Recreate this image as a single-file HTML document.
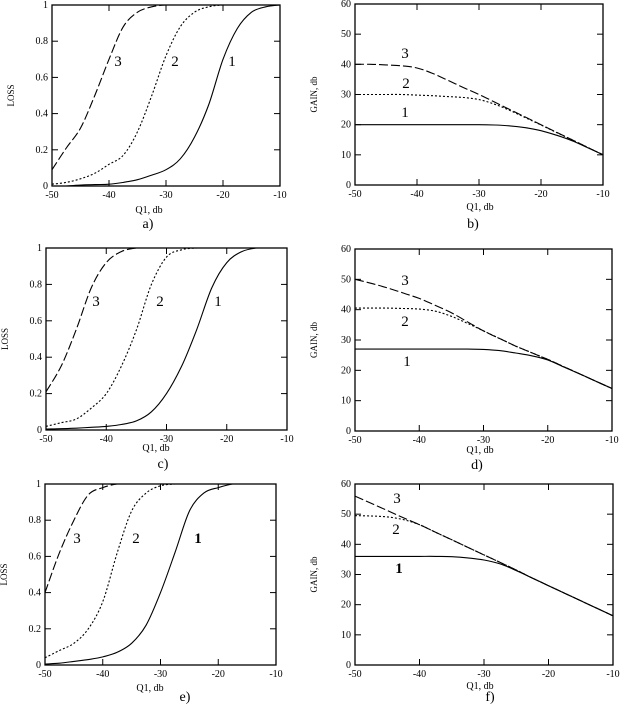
<!DOCTYPE html>
<html><head><meta charset="utf-8"><style>
html,body{margin:0;padding:0;background:#fff;}
svg{display:block;font-family:"Liberation Serif",serif;}
</style></head><body>
<svg id="fig" width="621" height="706" viewBox="0 0 621 706"></svg>
<script>
const xGrid = [-50,-47.5,-45,-42.5,-40,-37.5,-35,-32.5,-30,-27.5,-25,-22.5,-20,-17.5,-15,-12.5,-10];
const xTicks = [-50,-40,-30,-20,-10];
const lossTicks = [0,0.2,0.4,0.6,0.8,1];
const lossTickLabels = ["0","0.2","0.4","0.6","0.8","1"];
const gainTicks = [0,10,20,30,40,50,60];
const gainTickLabels = ["0","10","20","30","40","50","60"];
const xTickLabels = ["-50","-40","-30","-20","-10"];

const a1 = [0,0,0.005,0.008,0.01,0.02,0.035,0.06,0.09,0.15,0.27,0.45,0.7,0.87,0.96,0.99,1.0];
const a2 = [0.01,0.02,0.04,0.07,0.12,0.17,0.3,0.5,0.72,0.88,0.96,0.99,1,1,1,1,1];
const a3 = [0.09,0.21,0.32,0.5,0.7,0.88,0.96,0.99,1,1,1,1,1,1,1,1,1];
const b1 = [20,20,20,20,20,20,20,20,20,19.9,19.6,19,18,16.5,14.7,12.4,10];
const b2 = [30,30,30,30,29.8,29.6,29.3,29,28.3,26.8,24.7,22.3,19.9,17.4,15,12.5,10];
const b3 = [40,40,39.8,39.5,38.8,37,34.7,32.3,30,27.5,25,22.5,20,17.5,15,12.5,10];
const c1 = [0.005,0.007,0.01,0.015,0.02,0.03,0.05,0.1,0.2,0.35,0.55,0.78,0.92,0.98,1,1,1];
const c2 = [0.02,0.04,0.06,0.12,0.2,0.35,0.55,0.8,0.95,0.99,1,1,1,1,1,1,1];
const c3 = [0.21,0.35,0.55,0.78,0.92,0.98,1,1,1,1,1,1,1,1,1,1,1];
const d1 = [27,27,27,27,27,27,27,27,26.9,26.5,25.7,24.8,23.4,21.1,18.8,16.4,14];
const d2 = [40.5,40.5,40.5,40.4,40.2,39.5,37.8,35.5,33,30.5,28,25.8,23.6,21.2,18.8,16.4,14];
const d3 = [50,48.7,47.2,45.5,43.7,41.4,39,36,33,30.5,28,25.8,23.6,21.2,18.8,16.4,14];
const e1 = [0.005,0.01,0.02,0.03,0.045,0.07,0.12,0.22,0.4,0.62,0.85,0.95,0.98,1,1,1,1];
const e2 = [0.04,0.08,0.12,0.2,0.35,0.62,0.85,0.95,0.99,1,1,1,1,1,1,1,1];
const e3 = [0.4,0.62,0.8,0.94,0.98,1,1,1,1,1,1,1,1,1,1,1,1];
const f1 = [36,36,36,36,36,36,35.9,35.5,34.8,33.5,31.3,28.8,26.3,23.8,21.3,18.8,16.3];
const f2 = [49.5,49.4,49.1,48.2,46.5,44,41.5,39,36.5,34,31.5,28.8,26.3,23.8,21.3,18.8,16.3];
const f3 = [56,53.6,51.2,48.8,46.5,44,41.5,39,36.5,34,31.5,28.8,26.3,23.8,21.3,18.8,16.3];

const NS = "http://www.w3.org/2000/svg";
const svg = document.getElementById("fig");
function mk(tag, attrs, parent){
  const e = document.createElementNS(NS, tag);
  for (const k in attrs) e.setAttribute(k, attrs[k]);
  (parent||svg).appendChild(e);
  return e;
}
function smoothPath(pts, ymin, ymax){
  let d = "M" + pts[0][0].toFixed(1) + "," + pts[0][1].toFixed(1);
  for (let i = 0; i < pts.length - 1; i++){
    const p0 = pts[Math.max(0,i-1)], p1 = pts[i], p2 = pts[i+1], p3 = pts[Math.min(pts.length-1,i+2)];
    const c1x = p1[0] + (p2[0]-p0[0])/6, c1y = Math.min(ymax, Math.max(ymin, p1[1] + (p2[1]-p0[1])/6));
    const c2x = p2[0] - (p3[0]-p1[0])/6, c2y = Math.min(ymax, Math.max(ymin, p2[1] - (p3[1]-p1[1])/6));
    d += " C" + c1x.toFixed(1) + "," + c1y.toFixed(1) + " " + c2x.toFixed(1) + "," + c2y.toFixed(1) + " " + p2[0].toFixed(1) + "," + p2[1].toFixed(1);
  }
  return d;
}
const dashes = ["", "2,2", "9,3"];
const panels = [
  {id:"a", x0:52, x1:280, yt:5, yb:186, ymax:1, ticks:lossTicks, tl:lossTickLabels, yTitle:"LOSS", series:[a1,a2,a3],
   nums:[[232,66],[175,66],[118,66]], bold:false, q:[149,213], lab:[148,228]},
  {id:"b", x0:355, x1:603, yt:4, yb:185, ymax:60, ticks:gainTicks, tl:gainTickLabels, yTitle:"GAIN, db", series:[b1,b2,b3],
   nums:[[405,117],[406,88],[405,58]], bold:false, q:[480,210], lab:[473,228]},
  {id:"c", x0:46, x1:287, yt:248, yb:430, ymax:1, ticks:lossTicks, tl:lossTickLabels, yTitle:"LOSS", series:[c1,c2,c3],
   nums:[[218,306],[160,306],[96,306]], bold:false, q:[156,451], lab:[163,468]},
  {id:"d", x0:355, x1:612, yt:249, yb:431, ymax:60, ticks:gainTicks, tl:gainTickLabels, yTitle:"GAIN, db", series:[d1,d2,d3],
   nums:[[407,366],[405,326],[405,285]], bold:false, q:[480,453], lab:[477,469]},
  {id:"e", x0:45, x1:276, yt:484, yb:665, ymax:1, ticks:lossTicks, tl:lossTickLabels, yTitle:"LOSS", series:[e1,e2,e3],
   nums:[[198,543],[136,543],[77,543]], bold:true, q:[150,691], lab:[185,701]},
  {id:"f", x0:355, x1:613, yt:484, yb:665, ymax:60, ticks:gainTicks, tl:gainTickLabels, yTitle:"GAIN, db", series:[f1,f2,f3],
   nums:[[399,573],[396,534],[397,503]], bold:true, q:[480,689], lab:[490,701]}
];

panels.forEach(p => {
  const g = mk("g", {});
  
  
  const sx = v => p.x0 + (v - (-50)) / 40 * (p.x1 - p.x0);
  const sy = v => p.yb - v / p.ymax * (p.yb - p.yt);
  const frame = mk("rect", {x:p.x0, y:p.yt, width:p.x1-p.x0, height:p.yb-p.yt, fill:"none", stroke:"#000", "stroke-width":1.3}, g);
  
  
  xTicks.forEach((t, i) => {
    const x = sx(t);
    mk("line", {x1:x, y1:p.yb, x2:x, y2:p.yb-6, stroke:"#000"}, g);
    mk("line", {x1:x, y1:p.yt, x2:x, y2:p.yt+6, stroke:"#000"}, g);
    const tx = mk("text", {x:x, y:p.yb+12, "font-size":10, "text-anchor":"middle"}, g);
    tx.textContent = xTickLabels[i];
    
    
  });
  p.ticks.forEach((t, i) => {
    const y = sy(t);
    mk("line", {x1:p.x0, y1:y, x2:p.x0+6, y2:y, stroke:"#000"}, g);
    mk("line", {x1:p.x1, y1:y, x2:p.x1-6, y2:y, stroke:"#000"}, g);
    const ty = mk("text", {x:p.x0-4, y:y+3, "font-size":10, "text-anchor":"end"}, g);
    ty.textContent = p.tl[i];
    
    
  });
  const yt = mk("text", {x:0, y:0, "font-size":9, "text-anchor":"middle",
    transform:`translate(${p.x0-38},${(p.yt+p.yb)/2}) rotate(-90)`}, g);
  yt.textContent = p.yTitle;
  
  
  const xt = mk("text", {x:p.q[0], y:p.q[1], "font-size":10, "text-anchor":"middle"}, g);
  xt.textContent = "Q1, db";
  
  
  const lb = mk("text", {x:p.lab[0], y:p.lab[1], "font-size":14, "text-anchor":"middle"}, g);
  lb.textContent = p.id + ")";
  
  
  p.series.forEach((vals, si) => {
    const pts = vals.map((v, i) => [sx(xGrid[i]), sy(v)]);
    const pl = mk("path", {d:smoothPath(pts, p.yt, p.yb), fill:"none", stroke:"#000", "stroke-width":1.1}, g);
    if (dashes[si]) pl.setAttribute("stroke-dasharray", dashes[si]);
    
    
    const n = mk("text", {x:p.nums[si][0], y:p.nums[si][1], "font-size":15, "text-anchor":"middle",
      "font-weight": (p.bold && si===0) ? "bold" : "normal"}, g);
    n.textContent = String(si+1);
    
    
  });
});
</script>
</body></html>
